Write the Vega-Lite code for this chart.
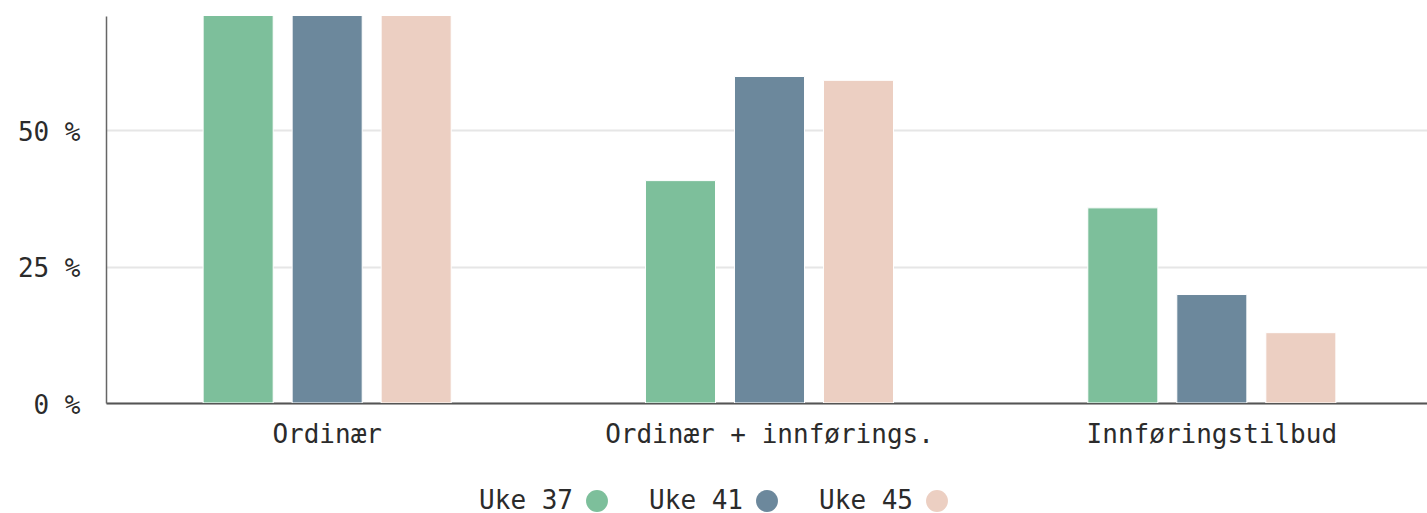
{
  "$schema": "https://vega.github.io/schema/vega-lite/v6.json",
  "width": 1327,
  "height": 387,
  "autosize": {"type": "none"},
  "padding": {"left": 106, "top": 16, "right": 0, "bottom": 110},
  "background": "white",
  "data": {
    "values": [
      {"kategori": "Ordinær", "uke": "Uke 37", "andel": 80},
      {"kategori": "Ordinær", "uke": "Uke 41", "andel": 80},
      {"kategori": "Ordinær", "uke": "Uke 45", "andel": 80},
      {"kategori": "Ordinær + innførings.", "uke": "Uke 37", "andel": 40.8},
      {"kategori": "Ordinær + innførings.", "uke": "Uke 41", "andel": 59.9},
      {"kategori": "Ordinær + innførings.", "uke": "Uke 45", "andel": 59.2},
      {"kategori": "Innføringstilbud", "uke": "Uke 37", "andel": 35.8},
      {"kategori": "Innføringstilbud", "uke": "Uke 41", "andel": 19.9},
      {"kategori": "Innføringstilbud", "uke": "Uke 45", "andel": 12.9}
    ]
  },
  "mark": {"type": "bar", "clip": true, "stroke": "white", "strokeWidth": 1},
  "encoding": {
    "x": {
      "field": "kategori",
      "type": "nominal",
      "sort": null,
      "scale": {"paddingInner": 0.4392, "paddingOuter": 0.2196},
      "axis": {
        "title": null,
        "labelAngle": 0,
        "labelFont": "DejaVu Sans Mono",
        "labelFontSize": 26,
        "labelColor": "#2b2b2b",
        "labelPadding": 18,
        "labelLimit": 0,
        "ticks": false,
        "domainColor": "#555555",
        "domainWidth": 2
      }
    },
    "xOffset": {
      "field": "uke",
      "type": "nominal",
      "scale": {"paddingInner": 0.213, "paddingOuter": 0}
    },
    "y": {
      "field": "andel",
      "type": "quantitative",
      "scale": {"domain": [0, 71], "nice": false},
      "axis": {
        "title": null,
        "values": [0, 25, 50],
        "labelExpr": "datum.value + ' %'",
        "labelFont": "DejaVu Sans Mono",
        "labelFontSize": 26,
        "labelColor": "#2b2b2b",
        "labelPadding": 26,
        "labelBaseline": "middle",
        "labelOffset": 2,
        "ticks": false,
        "domainColor": "#666666",
        "domainWidth": 1.5,
        "gridColor": "#e6e6e6",
        "gridWidth": 2
      }
    },
    "color": {
      "field": "uke",
      "type": "nominal",
      "scale": {"domain": ["Uke 37", "Uke 41", "Uke 45"], "range": ["#7dbf9b", "#6c889c", "#eccfc2"]},
      "legend": {
        "title": null,
        "orient": "none",
        "direction": "horizontal",
        "legendX": 478,
        "legendY": 472,
        "symbolType": "circle",
        "symbolSize": 480,
        "symbolStrokeWidth": 0,
        "labelFont": "DejaVu Sans Mono",
        "labelFontSize": 26,
        "labelColor": "#2b2b2b",
        "labelAlign": "right",
        "labelOffset": -37,
        "columnPadding": 41
      }
    }
  },
  "config": {"view": {"stroke": null}}
}
